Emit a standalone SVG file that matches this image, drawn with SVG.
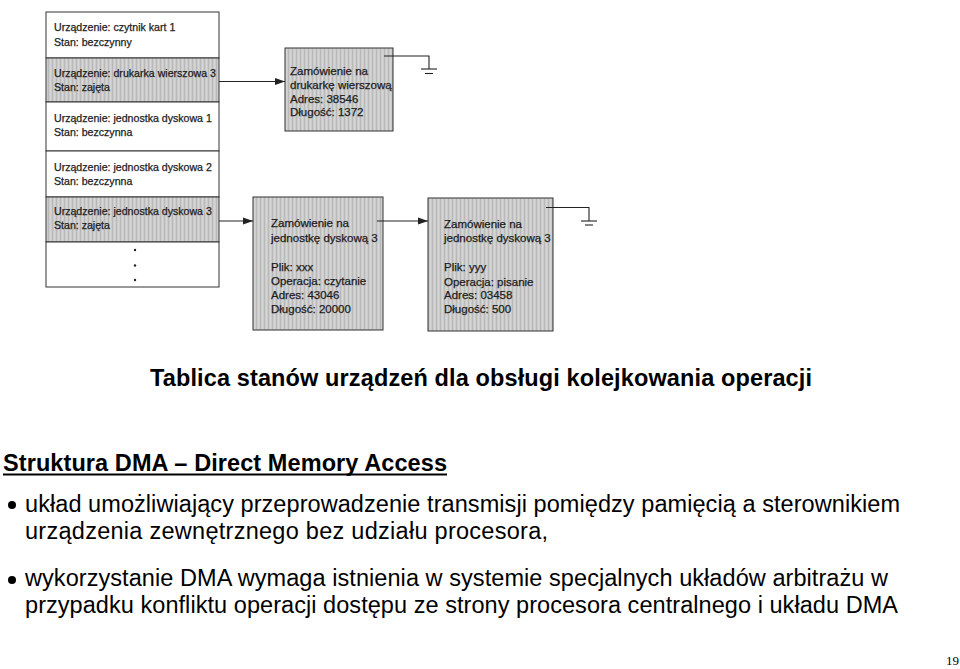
<svg xmlns="http://www.w3.org/2000/svg" width="960" height="669" viewBox="0 0 960 669">
<defs>
<pattern id="scan" width="4" height="4" patternUnits="userSpaceOnUse">
<rect width="4" height="4" fill="#cbcbcb"/>
<rect x="0" width="1" height="4" fill="#b9b9b9"/>
<rect x="2" width="1" height="4" fill="#d6d6d6"/>
</pattern>
<marker id="arr" markerUnits="userSpaceOnUse" markerWidth="10" markerHeight="8" refX="10" refY="4" orient="auto">
<path d="M0,0.5 L10,4 L0,7.5 z" fill="#222"/>
</marker>
<style>
.cell{fill:#fff;stroke:#333;stroke-width:1}
.shade{fill:url(#scan);stroke:#333;stroke-width:1}
.tt{font-family:"Liberation Sans",Arial,sans-serif;font-size:10.6px;fill:#1c1c1c;stroke:#1c1c1c;stroke-width:0.25}
.bt{font-family:"Liberation Sans",Arial,sans-serif;font-size:11.5px;fill:#1c1c1c;stroke:#1c1c1c;stroke-width:0.25}
.ln{fill:none;stroke:#222;stroke-width:1.1}
.big{font-family:"Liberation Sans",Arial,sans-serif;font-size:23.5px;fill:#000}
.bold{font-weight:bold}
</style>
</defs>
<rect width="960" height="669" fill="#fff"/>

<g id="table">
<g id="row1"><rect class="cell" x="46" y="12" width="173" height="46"/>
<text class="tt" x="54" y="31">Urządzenie: czytnik kart 1</text>
<text class="tt" x="54" y="45.5">Stan: bezczynny</text></g>
<g id="row2"><rect class="shade" x="46" y="58" width="173" height="44"/>
<text class="tt" x="54" y="76.5">Urządzenie: drukarka wierszowa 3</text>
<text class="tt" x="54" y="90.5">Stan: zajęta</text></g>
<g id="row3"><rect class="cell" x="46" y="102" width="173" height="49"/>
<text class="tt" x="54" y="121.5">Urządzenie: jednostka dyskowa 1</text>
<text class="tt" x="54" y="135.5">Stan: bezczynna</text></g>
<g id="row4"><rect class="cell" x="46" y="151" width="173" height="46"/>
<text class="tt" x="54" y="170.5">Urządzenie: jednostka dyskowa 2</text>
<text class="tt" x="54" y="184.5">Stan: bezczynna</text></g>
<g id="row5"><rect class="shade" x="46" y="197" width="173" height="45"/>
<text class="tt" x="54" y="215">Urządzenie: jednostka dyskowa 3</text>
<text class="tt" x="54" y="229">Stan: zajęta</text></g>
<g id="row6"><rect class="cell" x="46" y="242" width="173" height="45"/>
<circle cx="135" cy="250" r="1.2" fill="#222"/>
<circle cx="135" cy="265.5" r="1.2" fill="#222"/>
<circle cx="135" cy="280" r="1.2" fill="#222"/></g>
</g>

<g id="req-printer">
<rect class="shade" x="285" y="48" width="108" height="83"/>
<text class="bt" x="290" y="74.5">Zamówienie na</text>
<text class="bt" x="290" y="88.5">drukarkę wierszową</text>
<text class="bt" x="290" y="102.5">Adres: 38546</text>
<text class="bt" x="290" y="116">Długość: 1372</text>
</g>

<g id="req-disk-a">
<rect class="shade" x="253" y="197" width="130" height="133"/>
<text class="bt" x="271" y="227">Zamówienie na</text>
<text class="bt" x="271" y="241.5">jednostkę dyskową 3</text>
<text class="bt" x="271" y="270.5">Plik: xxx</text>
<text class="bt" x="271" y="285">Operacja: czytanie</text>
<text class="bt" x="271" y="298.5">Adres: 43046</text>
<text class="bt" x="271" y="312.5">Długość: 20000</text>
</g>

<g id="req-disk-b">
<rect class="shade" x="428" y="198" width="125" height="133"/>
<text class="bt" x="444" y="227.5">Zamówienie na</text>
<text class="bt" x="444" y="242">jednostkę dyskową 3</text>
<text class="bt" x="444" y="271">Plik: yyy</text>
<text class="bt" x="444" y="285.5">Operacja: pisanie</text>
<text class="bt" x="444" y="299">Adres: 03458</text>
<text class="bt" x="444" y="313">Długość: 500</text>
</g>

<g id="connectors">
<line class="ln" x1="219" y1="81.5" x2="285" y2="81.5" marker-end="url(#arr)"/>
<line class="ln" x1="219" y1="221" x2="253" y2="221" marker-end="url(#arr)"/>
<line class="ln" x1="377" y1="221" x2="428" y2="221" marker-end="url(#arr)"/>
<polyline class="ln" points="384,56 429,56 429,69"/>
<line class="ln" x1="421" y1="69" x2="437" y2="69"/>
<line class="ln" x1="425" y1="73.5" x2="433" y2="73.5"/>
<polyline class="ln" points="546,207.5 589,207.5 589,221"/>
<line class="ln" x1="581" y1="221" x2="597" y2="221"/>
<line class="ln" x1="585" y1="225" x2="593" y2="225"/>
</g>

<g id="caption">
<text class="big bold" x="150" y="385.5" textLength="662">Tablica stanów urządzeń dla obsługi kolejkowania operacji</text>
</g>

<g id="dma-text">
<text class="big bold" x="3" y="471" textLength="444">Struktura DMA – Direct Memory Access</text>
<line x1="3" y1="474.5" x2="447" y2="474.5" stroke="#000" stroke-width="2"/>
<circle cx="12" cy="505" r="4" fill="#000"/>
<text class="big" x="25" y="511.5" textLength="875">układ umożliwiający przeprowadzenie transmisji pomiędzy pamięcią a sterownikiem</text>
<text class="big" x="25" y="539" textLength="523">urządzenia zewnętrznego bez udziału procesora,</text>
<circle cx="12" cy="580" r="4" fill="#000"/>
<text class="big" x="25" y="586" textLength="863">wykorzystanie DMA wymaga istnienia w systemie specjalnych układów arbitrażu w</text>
<text class="big" x="25" y="613" textLength="873">przypadku konfliktu operacji dostępu ze strony procesora centralnego i układu DMA</text>
</g>

<text x="946" y="665" font-family="'Liberation Serif','Times New Roman',serif" font-size="13" fill="#000">19</text>
</svg>
